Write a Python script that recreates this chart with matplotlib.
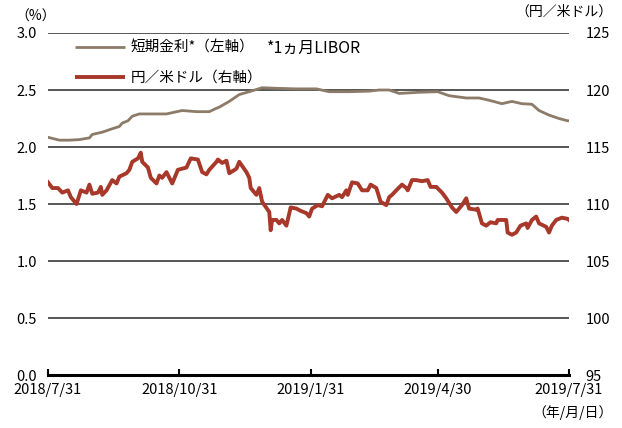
import pandas as pd
import matplotlib
matplotlib.use("Agg")
import matplotlib.pyplot as plt

plt.rcParams['font.family'] = ['Noto Sans CJK JP', 'DejaVu Sans']

# USD/JPY (right axis)
yen_dates = [
    "2018-07-31", "2018-08-03", "2018-08-07", "2018-08-10", "2018-08-14", "2018-08-16",
    "2018-08-20", "2018-08-23", "2018-08-27", "2018-08-29", "2018-08-31", "2018-09-04",
    "2018-09-06", "2018-09-07", "2018-09-10", "2018-09-14", "2018-09-17", "2018-09-19",
    "2018-09-24", "2018-09-26", "2018-09-28", "2018-10-02", "2018-10-04", "2018-10-05",
    "2018-10-09", "2018-10-11", "2018-10-15", "2018-10-17", "2018-10-19", "2018-10-22",
    "2018-10-26", "2018-10-30", "2018-11-02", "2018-11-05", "2018-11-08", "2018-11-13",
    "2018-11-16", "2018-11-19", "2018-11-21", "2018-11-26", "2018-11-27", "2018-11-30",
    "2018-12-03", "2018-12-05", "2018-12-10", "2018-12-12", "2018-12-17", "2018-12-19",
    "2018-12-20", "2018-12-24", "2018-12-26", "2018-12-28", "2019-01-02", "2019-01-03",
    "2019-01-04", "2019-01-07", "2019-01-09", "2019-01-11", "2019-01-14", "2019-01-17",
    "2019-01-21", "2019-01-24", "2019-01-28", "2019-01-30", "2019-02-01", "2019-02-05",
    "2019-02-08", "2019-02-12", "2019-02-15", "2019-02-20", "2019-02-22", "2019-02-25",
    "2019-02-26", "2019-03-01", "2019-03-05", "2019-03-08", "2019-03-12", "2019-03-14",
    "2019-03-18", "2019-03-21", "2019-03-25", "2019-03-27", "2019-03-29", "2019-04-01",
    "2019-04-05", "2019-04-08", "2019-04-09", "2019-04-12", "2019-04-15", "2019-04-19",
    "2019-04-23", "2019-04-25", "2019-04-29", "2019-05-03", "2019-05-06", "2019-05-10",
    "2019-05-13", "2019-05-17", "2019-05-20", "2019-05-22", "2019-05-27", "2019-05-28",
    "2019-05-31", "2019-06-03", "2019-06-06", "2019-06-10", "2019-06-11", "2019-06-17",
    "2019-06-18", "2019-06-21", "2019-06-24", "2019-06-27", "2019-07-01", "2019-07-02",
    "2019-07-05", "2019-07-08", "2019-07-10", "2019-07-15", "2019-07-17", "2019-07-19",
    "2019-07-22", "2019-07-26", "2019-07-30", "2019-07-31",
]
yen = [
    111.9, 111.4, 111.4, 111.0, 111.2, 110.6,
    110.0, 111.2, 111.0, 111.7, 110.9, 111.0,
    111.5, 110.8, 111.2, 112.1, 111.8, 112.4,
    112.7, 113.0, 113.7, 114.0, 114.5, 113.7,
    113.2, 112.3, 111.8, 112.5, 112.3, 112.8,
    111.8, 113.0, 113.1, 113.2, 114.0, 113.9,
    112.8, 112.6, 113.0, 113.7, 113.9, 113.6,
    113.8, 112.7, 113.1, 113.7, 112.8, 112.3,
    111.4, 110.8, 111.4, 110.2, 109.3, 107.7,
    108.6, 108.6, 108.3, 108.6, 108.1, 109.7,
    109.6, 109.4, 109.2, 108.9, 109.6, 109.9,
    109.8, 110.8, 110.5, 110.8, 110.6, 111.2,
    110.8, 111.9, 111.8, 111.2, 111.2, 111.7,
    111.4, 110.2, 109.9, 110.6, 110.8, 111.2,
    111.7, 111.4, 111.2, 112.1, 112.1, 112.0,
    112.1, 111.5, 111.5, 111.0, 110.5, 109.7,
    109.3, 109.9, 110.5, 109.6, 109.5, 109.6,
    108.3, 108.1, 108.4, 108.3, 108.6, 108.6,
    107.5, 107.3, 107.5, 108.1, 108.3, 107.9,
    108.6, 108.9, 108.3, 108.0, 107.5, 108.1,
    108.6, 108.8, 108.7, 108.6,
]

# 1M LIBOR (left axis)
libor_dates = [
    "2018-07-31", "2018-08-08", "2018-08-15", "2018-08-22", "2018-08-29", "2018-08-31",
    "2018-09-07", "2018-09-14", "2018-09-19", "2018-09-21", "2018-09-25", "2018-09-28",
    "2018-10-03", "2018-10-12", "2018-10-22", "2018-11-02", "2018-11-12", "2018-11-19",
    "2018-11-21", "2018-11-26", "2018-11-28", "2018-12-05", "2018-12-12", "2018-12-19",
    "2018-12-28", "2019-01-07", "2019-01-21", "2019-02-04", "2019-02-13", "2019-02-27",
    "2019-03-13", "2019-03-20", "2019-03-27", "2019-04-03", "2019-04-17", "2019-04-30",
    "2019-05-08", "2019-05-20", "2019-05-29", "2019-06-05", "2019-06-14", "2019-06-21",
    "2019-06-28", "2019-07-05", "2019-07-10", "2019-07-17", "2019-07-24", "2019-07-30",
    "2019-07-31",
]
libor = [
    2.085, 2.06, 2.06, 2.065, 2.08, 2.11,
    2.13, 2.16, 2.18, 2.21, 2.23, 2.27,
    2.29, 2.29, 2.29, 2.32, 2.31, 2.31,
    2.31, 2.34, 2.35, 2.40, 2.46, 2.485,
    2.52, 2.515, 2.51, 2.51, 2.485, 2.485,
    2.49, 2.50, 2.50, 2.47, 2.48, 2.485,
    2.45, 2.43, 2.43, 2.41, 2.38, 2.40,
    2.38, 2.375, 2.32, 2.28, 2.25, 2.23,
    2.23,
]

tick_dates = ["2018-07-31", "2018-10-31", "2019-01-31", "2019-04-30", "2019-07-31"]
tick_labels = ["2018/7/31", "2018/10/31", "2019/1/31", "2019/4/30", "2019/7/31"]

libor_color = "#8c7b68"
yen_color = "#a8382a"

fig = plt.figure(figsize=(6.22, 4.28), dpi=100)
ax = fig.add_axes([0.0772, 0.1238, 0.8376, 0.7991])
ax2 = ax.twinx()

ax.set_ylim(0, 3.0)
ax.set_yticks([0, 0.5, 1.0, 1.5, 2.0, 2.5, 3.0])
ax.set_yticklabels(["0.0", "0.5", "1.0", "1.5", "2.0", "2.5", "3.0"])
ax2.set_ylim(95, 125)
ax2.set_yticks([95, 100, 105, 110, 115, 120, 125])

ax.set_xlim(pd.Timestamp("2018-07-31"), pd.Timestamp("2019-07-31"))

for v in [0.5, 1.0, 1.5, 2.0, 2.5, 3.0]:
    ax.axhline(v, color="#3a3a3a", lw=1.2, zorder=1)

ax.plot(pd.to_datetime(libor_dates), libor, color=libor_color, lw=2.0, zorder=3)
ax2.plot(pd.to_datetime(yen_dates), yen, color=yen_color, lw=2.8, zorder=3)

for a in (ax, ax2):
    for s in ["top", "left", "right", "bottom"]:
        a.spines[s].set_visible(False)

ax.axhline(0, color="black", lw=2.2, zorder=4, clip_on=False)
ax.set_xticks(pd.to_datetime(tick_dates))
ax.set_xticklabels(tick_labels, fontsize=10.5)
ax.tick_params(axis="x", direction="in", length=4, width=1.5, color="black", pad=6)
ax.tick_params(axis="y", length=0, labelsize=10.5, pad=8)
ax2.tick_params(axis="y", length=0, labelsize=10.5, pad=12)

# legend drawn by hand
ax.plot([0.052, 0.148], [0.958, 0.958], transform=ax.transAxes, color=libor_color,
        lw=2.0, solid_capstyle="butt")
ax.text(0.158, 0.958, "短期金利*（左軸）", transform=ax.transAxes, va="center", fontsize=10.5)
ax.text(0.42, 0.955, "*1ヵ月LIBOR", transform=ax.transAxes, va="center", fontsize=11.5)
ax.plot([0.052, 0.148], [0.871, 0.871], transform=ax.transAxes, color=yen_color,
        lw=2.8, solid_capstyle="butt")
ax.text(0.158, 0.871, "円／米ドル（右軸）", transform=ax.transAxes, va="center", fontsize=10.5)

fig.text(0.025, 0.962, "（%）", fontsize=10, va="center")
fig.text(0.985, 0.972, "（円／米ドル）", fontsize=10, va="center", ha="right")
fig.text(0.985, 0.035, "（年/月/日）", fontsize=10, va="center", ha="right")

fig.savefig("out.png", dpi=100)
